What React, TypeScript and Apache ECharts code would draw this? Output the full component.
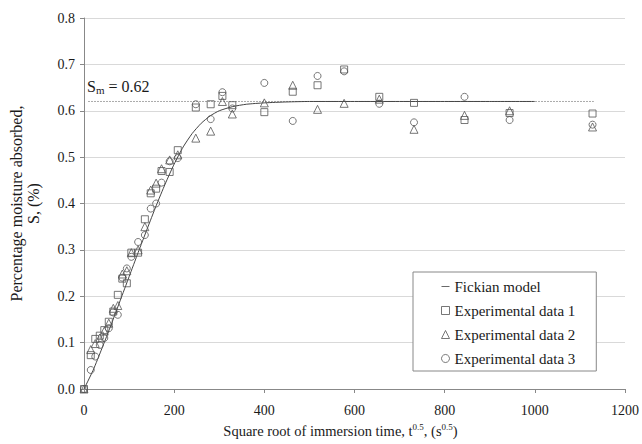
import React, { useEffect, useRef } from "react";
import * as echarts from "echarts";

// Square root of immersion time (s^0.5)
const TIME = [0, 15, 25, 35, 45, 55, 65, 75, 85, 95, 105, 120, 135, 148, 160, 172, 190, 208, 248, 281, 307, 329, 400, 463, 518, 577, 655, 732, 844, 944, 1128];
// Experimental data 1 (squares)
const S1 = [0.0, 0.073, 0.108, 0.115, 0.127, 0.145, 0.167, 0.203, 0.238, 0.228, 0.294, 0.294, 0.366, 0.422, 0.432, 0.47, 0.468, 0.515, 0.607, 0.614, 0.632, 0.612, 0.597, 0.641, 0.655, 0.689, 0.63, 0.617, 0.58, 0.595, 0.594];
// Experimental data 2 (triangles)
const S2 = [0.0, 0.085, 0.098, 0.11, 0.125, 0.142, 0.174, 0.18, 0.248, 0.255, 0.294, 0.3, 0.35, 0.429, 0.444, 0.475, 0.494, 0.505, 0.541, 0.556, 0.62, 0.593, 0.617, 0.655, 0.603, 0.616, 0.625, 0.56, 0.59, 0.6, 0.565];
// Experimental data 3 (circles)
const S3 = [0.0, 0.041, 0.07, 0.095, 0.11, 0.131, 0.165, 0.16, 0.24, 0.26, 0.285, 0.317, 0.332, 0.389, 0.4, 0.445, 0.491, 0.498, 0.614, 0.582, 0.64, 0.605, 0.66, 0.578, 0.675, 0.685, 0.615, 0.575, 0.63, 0.58, 0.57];

// Fickian model curve
const MODEL_X = [0, 20, 40, 60, 80, 100, 120, 140, 160, 180, 200, 220, 240, 260, 280, 300, 330, 360, 400, 450, 500, 600, 700, 800, 900, 1000];
const MODEL_Y = [0, 0.04, 0.088, 0.138, 0.19, 0.242, 0.294, 0.345, 0.395, 0.442, 0.485, 0.522, 0.551, 0.573, 0.589, 0.6, 0.609, 0.614, 0.617, 0.619, 0.62, 0.62, 0.62, 0.62, 0.62, 0.62];

// Saturation level
const SM = 0.62;
const SM_RANGE = [10, 1130];

const FONT = "Liberation Serif";
const MARK = "#555";
const TXT = "#1a1a1a";

export default function App() {
  const ref = useRef<HTMLDivElement>(null);
  useEffect(() => {
    document.body.style.margin = "0";
    if (!ref.current) return;
    const chart = echarts.init(ref.current, null, { renderer: "svg" });
    const pts = (ys: number[]) => TIME.map((x, i) => [x, ys[i]]);
    const hollow = { color: "transparent", borderColor: MARK, borderWidth: 1 };
    chart.setOption({
      animation: false,
      backgroundColor: "#fff",
      textStyle: { fontFamily: FONT },
      grid: { left: 82, right: 14, top: 18, bottom: 55 },
      xAxis: {
        type: "value",
        min: 0,
        max: 1200,
        interval: 200,
        axisLine: { show: true, lineStyle: { color: "#888" } },
        axisTick: { show: true, length: 4, lineStyle: { color: "#888" } },
        axisLabel: {
          fontSize: 14,
          color: TXT,
          margin: 14,
          fontFamily: FONT,
          formatter: (v: number) => String(v),
        },
        splitLine: { show: false },
        name: "Square root of immersion time, t{sup|0.5}, (s{sup|0.5})",
        nameLocation: "middle",
        nameGap: 33,
        nameTextStyle: {
          fontSize: 14.5,
          color: TXT,
          fontFamily: FONT,
          padding: [0, 28, 0, 0],
          rich: {
            sup: { fontSize: 9, fontFamily: FONT, color: TXT, padding: [0, 0, 8, 0] },
          },
        },
      },
      yAxis: {
        type: "value",
        min: 0,
        max: 0.8,
        interval: 0.1,
        axisLine: { show: true, lineStyle: { color: "#888" } },
        axisTick: { show: true, length: 4, lineStyle: { color: "#888" } },
        axisLabel: {
          fontSize: 14,
          color: TXT,
          margin: 9,
          fontFamily: FONT,
          formatter: (v: number) => v.toFixed(1),
        },
        splitLine: { show: true, lineStyle: { color: "#d9d9d9", width: 1 } },
        name: "Percentage moisture absorbed,\nS, (%)",
        nameLocation: "middle",
        nameRotate: 90,
        nameGap: 42,
        nameTextStyle: { fontSize: 16, color: TXT, fontFamily: FONT, lineHeight: 17 },
      },
      legend: {
        orient: "vertical",
        left: 413,
        top: 272,
        padding: [7, 21, 5, 28],
        itemGap: 9,
        itemWidth: 8,
        itemHeight: 8,
        symbolKeepAspect: true,
        borderColor: "#888",
        borderWidth: 1,
        backgroundColor: "#fff",
        textStyle: { fontSize: 15, color: TXT, fontFamily: FONT },
        data: [
          {
            name: "Fickian model",
            icon: "path://M0,0L12,0L12,1.2L0,1.2Z",
            itemStyle: { color: "#444", borderWidth: 0 },
          },
          { name: "Experimental data 1", icon: "rect", itemStyle: hollow },
          { name: "Experimental data 2", icon: "triangle", itemStyle: hollow },
          { name: "Experimental data 3", icon: "circle", itemStyle: hollow },
        ],
      },
      graphic: [
        {
          type: "text",
          left: 87,
          top: 78,
          style: {
            text: "S{sub|m} = 0.62",
            font: `16px ${FONT}`,
            fill: TXT,
            rich: {
              sub: { fontSize: 11, fontFamily: FONT, fill: TXT, padding: [7, 0, 0, 0] },
            },
          },
        },
      ],
      series: [
        {
          name: "Sm",
          type: "line",
          data: SM_RANGE.map((x) => [x, SM]),
          symbol: "none",
          lineStyle: { color: "#555", width: 1, type: [1, 2] },
          z: 1,
        },
        {
          name: "Fickian model",
          type: "line",
          data: MODEL_X.map((x, i) => [x, MODEL_Y[i]]),
          symbol: "none",
          smooth: 0.2,
          lineStyle: { color: "#444", width: 1 },
          itemStyle: { color: "#444" },
          z: 2,
        },
        {
          name: "Experimental data 1",
          type: "scatter",
          symbol: "rect",
          symbolSize: 7,
          data: pts(S1),
          itemStyle: hollow,
          z: 3,
        },
        {
          name: "Experimental data 2",
          type: "scatter",
          symbol: "triangle",
          symbolSize: 8,
          data: pts(S2),
          itemStyle: hollow,
          z: 3,
        },
        {
          name: "Experimental data 3",
          type: "scatter",
          symbol: "circle",
          symbolSize: 7,
          data: pts(S3),
          itemStyle: hollow,
          z: 3,
        },
      ],
    });
    return () => chart.dispose();
  }, []);
  return <div ref={ref} style={{ width: 642, height: 444 }} />;
}
